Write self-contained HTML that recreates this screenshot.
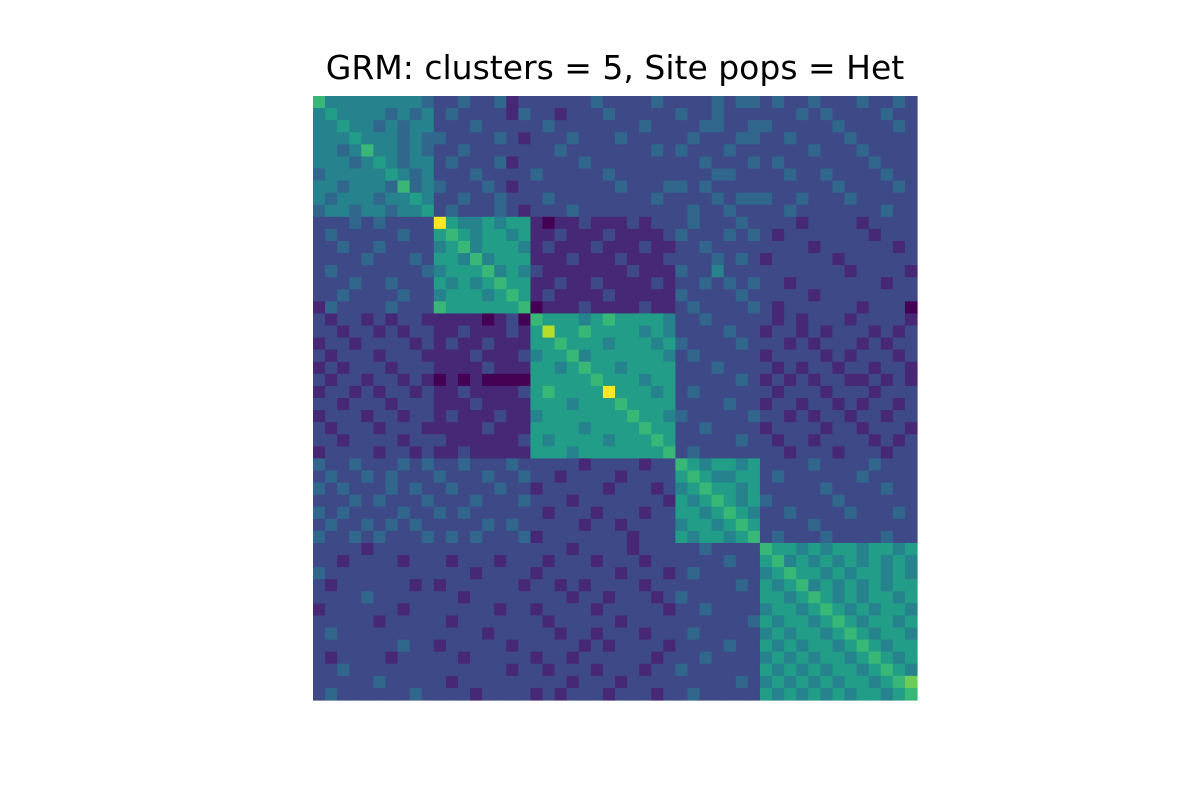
<!DOCTYPE html>
<html><head><meta charset="utf-8"><style>
body{margin:0;background:#fff;width:1200px;height:800px;overflow:hidden}
</style></head><body>
<svg id="chart" width="1200" height="800" xmlns="http://www.w3.org/2000/svg">
<text x="615" y="79" text-anchor="middle" font-family="DejaVu Sans, sans-serif" font-size="33">GRM: clusters = 5, Site pops = Het</text>
<g id="cells"></g>
</svg>
<script>
// Row cluster A (10 rows): segments per column cluster A,B,C,D,E
const rowsA_A=["6444444443","4544443434","4454434344","4445444343","4434644343","4443454344","3444445434","4434443634","4344434454","3443443445"];
const rowsA_B=["22322312","23222213","22232222","32222321","22322222","23222312","22232222","32223212","22322322","23222321"];
const rowsA_C=["222223222232","221222322222","232222222322","222322232222","223222222232","222232222222","322222322222","222222232223","232222222232","222322222222"];
const rowsA_D=["2223233","3223222","2233223","2322233","3222322","2232223","2223322","3232222","2223233","2322322"];
const rowsA_E=["2322322232232","2223232222322","3222223222232","2232222322222","2222322232222","2322222223222","2232232222322","2222223222232","3223222322222","2232222222322"];
// Row cluster B (8 rows)
const rowsB_A=["2223232222","2322222322","2232232222","2222322232","2322222223","2223223222","2232222322","1322223222"];
const rowsB_B=["95445455","56545545","45645554","55464555","45556454","54545655","45554565","65555556"];
const rowsB_C=["101121112122","112111211112","121112111211","111211121112","211111112111","112112111121","121111211111","011121111211"];
const rowsB_D=["2322232","3222323","2232222","2223232","3224222","2232323","3222232","2322223"];
const rowsB_E=["2221222212222","2122222221222","2222122222212","1222221222222","2222222122221","2212222222122","2222122222222","2122222212220"];
// Row cluster C (12 rows)
const rowsC_A=["2122121221","2212212122","1221222212","2122212221","1212221222","2122122121","1221212212","2212221222","1222122122","2122212221","2212222122","1222212212"];
const rowsC_B=["11110120","11211121","12112111","11121112","11112111","01010000","11211112","11121111","12111211","11112111","21111112","11211111"];
const rowsC_C=["655545655554","585565555454","556555455545","455645555554","554565545555","555556555455","565555955545","555455565555","455555556554","555545555655","545555455565","555455555556"];
const rowsC_D=["2232222","2222322","3222232","2322222","2223222","2222232","2322222","2222322","3222223","2232222","2222232","2322222"];
const rowsC_E=["2121222122221","1221212221212","2212122212122","1222212122212","2121221221221","1212122112121","2122212221222","1221221212212","2212122122122","1222212212221","2122122221212","2212221222122"];
// Row cluster D (7 rows)
const rowsD_A=["3223222323","2322323222","3232223232","2223232223","3232222322","2322323232","3223232223"];
const rowsD_B=["22322232","32223223","23222322","22232223","32322222","22223232","23232223"];
const rowsD_C=["222212222122","221222212222","122222122212","222122222221","212221222122","222212212222","122222221222"];
const rowsD_D=["6545545","5654455","4565545","5456545","5545654","4554565","5455456"];
const rowsD_E=["2222322223222","2322222232222","2222232222322","3222223222222","2232222322232","2222322222222","2322232222322"];
// Row cluster E (13 rows)
const rowsE_A=["2222122222","2212222122","3222222222","2122222212","2222322222","1222222122","2222212222","2322222222","2222222322","2122221222","2232222222","2222232222","2322222232"];
const rowsE_B=["22222222","21222122","22212222","12222221","22122222","22222122","21222222","22221222","12222212","22122222","22222212","21222222","22212222"];
const rowsE_C=["222122221222","212221222122","122222212221","221212222122","222122122212","122221222221","212222212222","221221222122","222212122221","122122222212","212221222122","222122212222","121222122212"];
const rowsE_D=["2232222","2222322","2322222","2222232","3222222","2232222","2222223","2322222","2222322","2232222","3222222","2222232","2322222"];
const rowsE_E=["6554545545545","5645454545454","4565545455454","5456454545455","5545654545545","4554565454554","5455456545545","4545545654554","5454554565455","4545455456545","5454545545654","4545454554567","5454545455456"];

const groups=[[rowsA_A,rowsA_B,rowsA_C,rowsA_D,rowsA_E],[rowsB_A,rowsB_B,rowsB_C,rowsB_D,rowsB_E],[rowsC_A,rowsC_B,rowsC_C,rowsC_D,rowsC_E],[rowsD_A,rowsD_B,rowsD_C,rowsD_D,rowsD_E],[rowsE_A,rowsE_B,rowsE_C,rowsE_D,rowsE_E]];
const matrix=[];
groups.forEach(g=>{for(let i=0;i<g[0].length;i++){matrix.push((g[0][i]+g[1][i]+g[2][i]+g[3][i]+g[4][i]).split('').map(Number));}});
const N=matrix.length;
const X0=313,Y0=96,W=604,H=604;
const xScale=j=>X0+j*W/N;
const yScale=i=>Y0+i*H/N;
const vir=[[68,1,84],[72,36,117],[65,68,135],[53,95,141],[42,120,142],[33,145,140],[34,168,132],[68,191,112],[122,209,81],[189,223,38],[253,231,37]];
function color(v){const t=Math.max(0,Math.min(1,v/9))*(vir.length-1);const k=Math.min(vir.length-2,Math.floor(t));const f=t-k;const c=vir[k].map((a,n)=>Math.round(a+(vir[k+1][n]-a)*f));return `rgb(${c[0]},${c[1]},${c[2]})`;}
const g=document.getElementById('cells');
const NS='http://www.w3.org/2000/svg';
for(let i=0;i<N;i++){for(let j=0;j<matrix[i].length;j++){
const r=document.createElementNS(NS,'rect');
r.setAttribute('x',xScale(j));r.setAttribute('y',yScale(i));
r.setAttribute('width',W/N+0.6);r.setAttribute('height',H/N+0.6);
r.setAttribute('fill',color(matrix[i][j]));


g.appendChild(r);}}
</script>
</body></html>
